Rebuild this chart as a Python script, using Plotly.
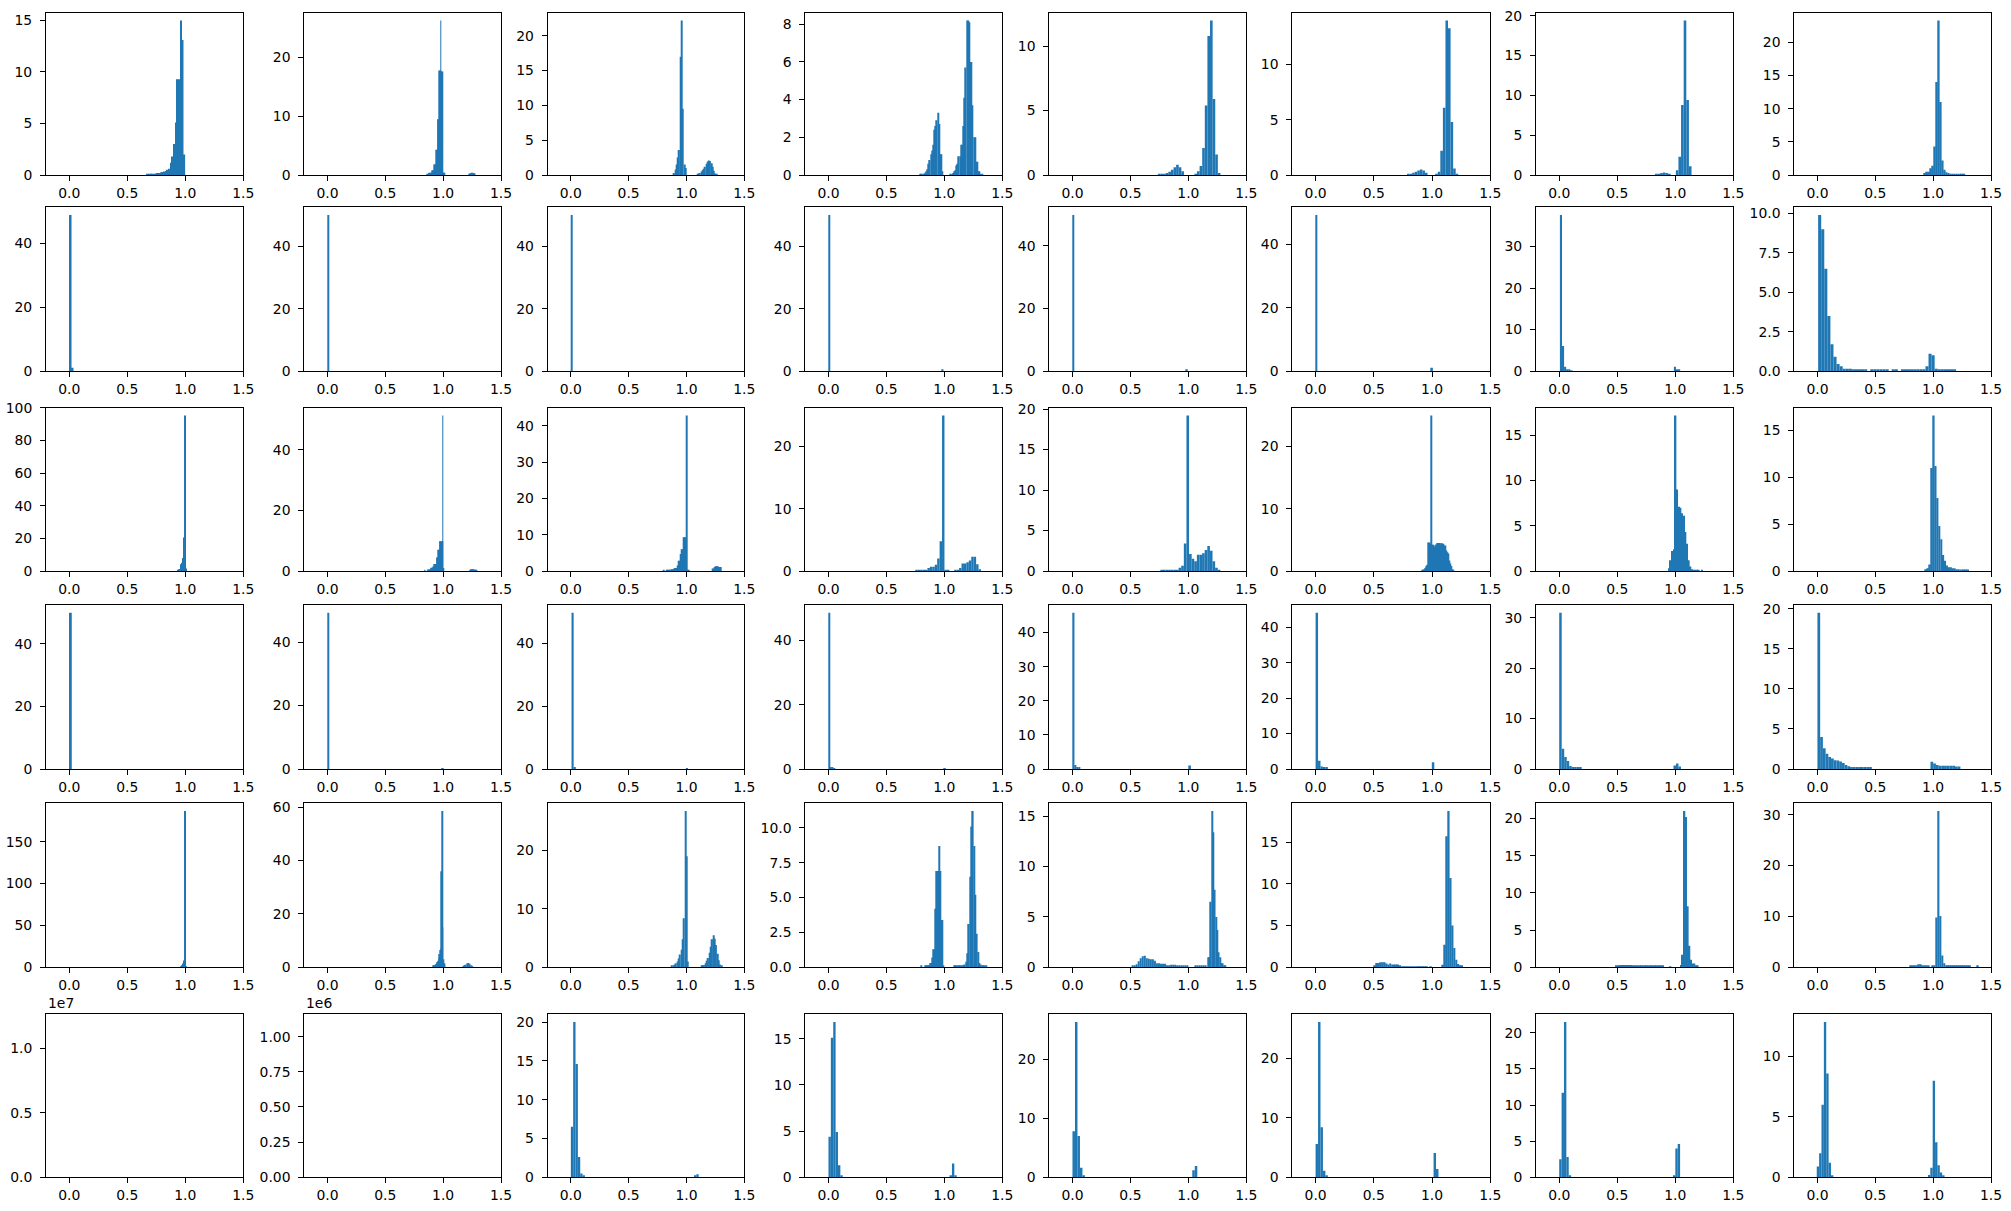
import plotly.graph_objects as go

# histogram data: each panel is a list of (left edge, bin width, densities)
p01 = [(0.67, 0.0143, [0.1, 0.1, 0.1, 0.1, 0.1, 0.15, 0.2, 0.2, 0.25, 0.3, 0.35, 0.4, 0.5, 0.6, 1.2, 1.8, 3.0, 5.1, 9.3, 9.3, 15.0, 13.1, 2.0])]
p02 = [(0.86, 0.0065, [0.2, 0.05, 0.3, 0.4, 0.4, 0.4, 0.4, 0.8, 0.8, 1.8, 1.8, 1.8, 4.3, 4.3, 9.5, 9.5, 17.8, 17.8, 26.3, 17.6, 17.6, 0.4, 0.4, 0.4]),
       (1.225, 0.0065, [0.2, 0.3, 0.3, 0.4, 0.4, 0.3, 0.3, 0.2])]
p03 = [(0.888, 0.011, [0.3, 0.8, 1.5, 2.5, 3.6, 17.0, 22.2, 9.5, 1.5, 1.0]),
       (1.09, 0.011, [0.1, 0.2, 0.3, 0.5, 0.7, 0.9, 1.2, 1.6, 1.9, 2.1, 2.0, 1.7, 1.2, 0.6, 0.2, 0.1])]
p04 = [(0.79, 0.01, [0.05, 0.05, 0.05, 0.05, 0.12, 0.2, 0.3, 0.6, 0.8, 1.1, 1.3, 1.6, 2.4, 2.6, 2.9, 3.3, 2.7, 1.1, 1.1, 0.2]),
       (1.05, 0.01, [0.05, 0.05, 0.1, 0.2, 0.25, 0.5, 0.6, 1.0, 1.0, 1.6, 1.6, 2.6, 4.1, 5.7, 8.2, 8.2, 8.1, 6.0, 6.0, 3.7, 2.0, 2.0, 0.7, 0.7, 0.2, 0.2, 0.07, 0.07])]
p05 = [(0.737, 0.0225, [0.05, 0.05, 0.1, 0.15, 0.25, 0.4, 0.6, 0.8, 0.6, 0.3, 0, 0, 0, 0, 0.05, 0.3, 0.7, 2.1, 5.4, 10.8, 12.0, 5.9, 1.6, 0.15])]
p06 = [(0.785, 0.022, [0.1, 0.1, 0.2, 0.3, 0.4, 0.5, 0.4, 0.2, 0, 0, 0, 0.1, 0.3, 2.2, 6.1, 14.0, 13.3, 4.8, 0.6, 0.1])]
p07 = [(0.825, 0.0225, [0.1, 0.1, 0.25, 0.3, 0.25, 0.15, 0, 0, 0.6, 2.3, 8.8, 19.4, 9.4, 1.1])]
p08 = [(0.92, 0.017, [0.3, 0.5, 0.5, 1.0, 1.4, 4.3, 14.0, 23.3, 11.0, 2.2, 0.8, 0.4, 0.3, 0.2, 0.2, 0.2, 0.15, 0.15, 0.15, 0.15, 0.15])]

p09 = [(0.003, 0.017, [48.8, 1.0])]
p10 = [(0.0, 0.0145, [50.0])]
p11 = [(0.0, 0.012, [50.0])]
p12 = [(0.0, 0.0125, [50.0]), (0.98, 0.0125, [0.3])]
p13 = [(0.0, 0.0145, [49.8]), (0.98, 0.0145, [0.3])]
p14 = [(0.0, 0.015, [49.3]), (0.992, 0.015, [1.0])]
p15 = [(0.006, 0.018, [37.6, 6.0, 1.0, 0.3, 0.3, 0.15]), (0.988, 0.018, [1.0, 0.3, 0.3])]
p16 = [(0.006, 0.0265, [9.9, 9.0, 6.5, 3.5, 1.7, 0.9, 0.45, 0.3, 0.15, 0.15, 0.15, 0.1, 0.1, 0.1, 0.1, 0.1, 0, 0.1, 0.1, 0.1, 0.1, 0.1, 0.1, 0,
                        0.1, 0.1, 0, 0.1, 0.1, 0.1, 0.1, 0.1, 0.1, 0.1, 0.1, 0.3, 1.1, 1.0, 0.15, 0.1, 0.1, 0.1, 0.1, 0.1, 0.1])]

p17 = [(0.936, 0.0065, [0.8, 1.0, 1.2, 3.5, 4.2, 5.0, 8.0, 11.0, 20.5, 95.4, 1.5])]
p18 = [(0.8385, 0.0065, [0.2, 0.1, 0, 0, 0.3, 0.5, 0.5, 0.5, 0.8, 1.1, 1.1, 1.5, 1.5, 2.3, 2.3, 2.3, 4.5, 4.5, 7.0, 7.0, 9.8, 9.8, 9.8, 9.8, 51.4, 1.0]),
       (1.23, 0.0065, [0.3, 0.3, 0.6, 0.6, 0.6, 0.5, 0.4, 0.4, 0.3])]
p19 = [(0.80, 0.0085, [0.1]),
       (0.8245, 0.0085, [0.3, 0.3, 0.3, 0.3, 0.3, 0.5, 0.5, 0.5, 0.8, 0.8, 0.8, 1.5, 2.8, 2.8, 4.7, 6.0, 6.0, 9.3, 9.3, 9.3, 42.9, 0.3, 0.3]),
       (1.223, 0.0085, [0.7, 0.7, 1.1, 1.3, 1.3, 1.3, 1.1, 1.1, 1.1])]
p20 = [(0.749, 0.021, [0.2, 0.2, 0.2, 0.2, 0.2, 0.5, 0.7, 0.7, 1.0, 2.0, 4.8, 25.0, 0.2, 0.2, 0, 0, 0.2, 0.2, 0.5, 1.2, 1.2, 1.4, 1.7, 2.3, 2.3, 1.1, 0.3])]
p21 = [(0.7585, 0.0225, [0.15, 0.15, 0.15, 0.15, 0.15, 0.15, 0.15, 0.4, 0.65, 3.4, 19.2, 2.1, 1.5, 1.2, 2.0, 2.0, 2.2, 2.6, 3.1, 2.5, 1.2, 0.4, 0.1])]
p22 = [(0.9141, 0.0086, [0.1, 0.2, 0.3, 0.5, 0.8, 1.0, 4.6, 4.6, 4.4, 25.0, 4.2, 4.2, 3.9, 4.1, 4.3, 4.5, 4.5, 4.5, 4.3, 4.5, 4.4, 4.4, 4.1, 4.1,
                         3.3, 3.0, 2.8, 1.7, 1.2, 0.8, 0.3, 0.15])]
p23 = [(0.938, 0.0143, [0.3, 1.2, 2.2, 2.4, 17.2, 9.0, 7.1, 7.0, 6.4, 6.1, 4.3, 3.0, 1.2, 0.5, 0.2, 0.15, 0.15, 0.15, 0.1, 0, 0.1])]
p24 = [(0.93, 0.0165, [0.2, 0.3, 0.7, 11.0, 16.6, 11.2, 7.8, 4.8, 3.4, 1.7, 1.1, 0.6, 0.4, 0.4, 0.3, 0.3, 0.2, 0.2, 0.15, 0.15, 0.15, 0.15, 0.15])]

p25 = [(0.005, 0.017, [49.9])]
p26 = [(0.0, 0.0145, [49.2]), (0.99, 0.0145, [0.3])]
p27 = [(0.006, 0.0185, [49.6, 0.4]), (0.995, 0.0185, [0.3])]
p28 = [(0.0, 0.014, [48.6, 0.4, 0.4, 0.3]), (0.998, 0.014, [0.3])]
p29 = [(0.0, 0.017, [45.8, 1.2, 0.4, 0.3]), (1.005, 0.017, [1.0])]
p30 = [(0.0, 0.021, [44.1, 2.3, 0.7, 0.4, 0.3]), (0.998, 0.021, [1.9])]
p31 = [(0.0, 0.0215, [31.0, 4.0, 2.4, 1.6, 0.6, 0.2, 0.2, 0.2, 0.2]), (0.9845, 0.0215, [0.7, 1.1, 0.5])]
p32 = [(0.0, 0.0235, [19.5, 4.0, 2.6, 1.9, 1.5, 1.3, 1.1, 1.05, 0.95, 0.75, 0.5, 0.35, 0.2, 0.15, 0.15, 0.15, 0.15, 0.15, 0.15, 0.15]),
       (0.977, 0.0235, [0.9, 0.7, 0.5, 0.4, 0.4, 0.4, 0.4, 0.4, 0.4, 0.3, 0.3])]

p33 = [(0.958, 0.0086, [1.2, 2.5, 4.5, 8.0, 186.6, 1.0])]
p34 = [(0.9135, 0.0058, [0.4, 0.5, 0.7, 1.0, 1.2, 1.5, 2.0, 2.5, 3.5, 5.0, 6.5, 7.0, 36.0, 58.5, 15.0, 3.0, 1.5, 0.5]),
       (1.167, 0.0115, [0.3, 0.6, 1.0, 1.5, 1.6, 1.3, 0.8, 0.3])]
p35 = [(0.87, 0.0115, [0.2, 0.3, 0.5, 0.7, 1.0, 1.5, 2.2, 3.0, 4.8, 8.4, 26.7, 19.0, 1.0]),
       (1.125, 0.0115, [0.2, 0.3, 0.4, 0.7, 1.1, 1.6, 2.5, 3.5, 4.8, 5.5, 4.9, 3.8, 2.3, 1.2, 0.5, 0.2])]
p36 = [(0.793, 0.0087, [0.1]),
       (0.833, 0.0087, [0.1, 0.1, 0.1, 0.1, 0.1, 0.3, 0.3, 0.7, 1.3, 1.3, 4.2, 6.9, 6.9, 6.9, 8.7, 6.9, 3.4, 3.4, 0.1]),
       (1.08, 0.0115, [0.1, 0.1, 0.1, 0.1, 0.1, 0.1, 0.1, 0.15, 0.2, 0.4, 1.0, 3.1, 6.5, 10.1, 11.2, 8.7, 5.2, 2.4, 1.1, 0.3, 0.2, 0.15, 0.1, 0.1, 0.1])]
p37 = [(0.51, 0.0175, [0.1, 0.1, 0.3, 0.6, 0.9, 1.1, 1.15, 0.9, 0.85, 0.8, 0.8, 0.65, 0.4, 0.4, 0.35, 0.35, 0.35, 0.2, 0.2, 0.25,
                       0.25, 0.25, 0.1, 0.1, 0.1, 0.1, 0.1, 0.1, 0, 0, 0, 0.1, 0.1, 0.1, 0.1, 0.1, 0.1]),
       (1.1655, 0.0115, [1.0, 1.0, 6.5, 15.5, 13.4, 7.7, 5.0, 3.7, 1.5, 1.0, 0.4, 0.4, 0.1, 0.1])]
p38 = [(0.502, 0.0165, [0.15, 0.5, 0.5, 0.6, 0.6, 0.6, 0.45, 0.35, 0.45, 0.3, 0.35, 0.35, 0.35, 0.2, 0.12, 0.12, 0.12, 0.12, 0.12, 0.12,
                        0.12, 0.12, 0.12, 0.12, 0.12, 0.12, 0.12, 0.12, 0, 0.1]),
       (1.0845, 0.0165, [0.3, 2.7, 15.7, 18.7, 10.7, 5.0, 2.3, 0.9, 0.4, 0.15, 0.15])]
p39 = [(0.488, 0.0143, [0.15, 0.15, 0.3, 0.3, 0.3, 0.3, 0.3, 0.3, 0.3, 0.3, 0.15, 0.15, 0.15, 0.15, 0.15, 0.15, 0.15, 0.15, 0.25,
                        0.15, 0.15, 0.15, 0.15, 0.15, 0.15, 0.15, 0.15, 0.15, 0.15]),
       (0.952, 0.0143, [0.1]),
       (1.0435, 0.0143, [0.3, 1.7, 21.0, 20.2, 8.2, 2.9, 1.0, 0.5, 0.5, 0.2, 0.2])]
p40 = [(0.799, 0.017, [0.2, 0.2, 0.2, 0.2, 0.6, 0.6, 0.4, 0.25, 0.25, 0.25, 0, 0.3, 0.3, 9.8, 30.7, 10.1, 2.3, 0.8,
                       0.2, 0.2, 0.2, 0.2, 0.2, 0.2, 0.2, 0.2, 0.2, 0.2, 0.2, 0.2, 0.2, 0, 0, 0, 0.2])]

# the first two panels of the last row hold no visible bars, only a huge peak density
p41 = []
p42 = []
p41_peak = 1.2034e7
p42_peak = 1.104e6
p43 = [(0.0, 0.0203, [6.5, 20.0, 14.6, 2.6, 0.5, 0.2]), (1.065, 0.0203, [0.25, 0.4])]
p44 = [(0.0, 0.0205, [4.4, 15.1, 16.8, 4.9, 1.3, 0.2]), (1.045, 0.0205, [0.2, 1.5, 0.2])]
p45 = [(0.0, 0.0215, [7.8, 26.3, 7.0, 1.6, 0.3]), (1.034, 0.0215, [1.2, 1.9])]
p46 = [(0.0, 0.021, [5.6, 26.1, 8.4, 1.1, 0.2]), (1.013, 0.021, [4.1, 1.4])]
p47 = [(0.0, 0.0205, [2.5, 11.7, 21.5, 2.8, 0.2]), (0.98, 0.0205, [0.2, 4.0, 4.6])]
p48 = [(-0.006, 0.0205, [0.9, 2.0, 6.0, 12.85, 8.6, 1.2, 0.1]), (0.955, 0.0205, [0.2, 0.8, 8.0, 2.9, 1.0, 0.4, 0.15])]

panels = [p01, p02, p03, p04, p05, p06, p07, p08,
          p09, p10, p11, p12, p13, p14, p15, p16,
          p17, p18, p19, p20, p21, p22, p23, p24,
          p25, p26, p27, p28, p29, p30, p31, p32,
          p33, p34, p35, p36, p37, p38, p39, p40,
          p41, p42, p43, p44, p45, p46, p47, p48]

# y tick step of every panel
y_steps = [5, 10, 5, 2, 5, 5, 5, 5,
           20, 20, 20, 20, 20, 20, 10, 2.5,
           20, 20, 10, 10, 5, 10, 5, 5,
           20, 20, 20, 20, 10, 10, 10, 5,
           50, 20, 10, 2.5, 5, 5, 5, 10,
           0.5e7, 0.25e6, 5, 5, 10, 10, 5, 5]

x_ticks = [0.0, 0.5, 1.0, 1.5]
x_labels = ['0.0', '0.5', '1.0', '1.5']

W, H = 2011, 1211
col_left = [46, 304.3, 547.7, 805.3, 1049.3, 1292.3, 1536, 1794.3]
col_right = [243.3, 501, 744.3, 1002.3, 1246.3, 1490.3, 1733.3, 1991]
row_top = [12.7, 207.3, 407.7, 605, 803.3, 1014.3]
row_bottom = [175, 371, 571, 769, 967.3, 1177.3]

BLUE = '#1f77b4'
FONT = dict(family='DejaVu Sans', size=13.9, color='black')

axis_style = dict(showline=True, linecolor='black', linewidth=1, mirror=True,
                  ticks='outside', ticklen=5, tickwidth=1, tickcolor='black',
                  showgrid=False, zeroline=False, tickfont=FONT, automargin=False)

fig = go.Figure()
layout = {}
annotations = []
empty_peaks = {40: p41_peak, 41: p42_peak}

for i, segs in enumerate(panels):
    r, c = divmod(i, 8)
    n = i + 1
    sfx = '' if n == 1 else str(n)

    xs, ys, ws = [], [], []
    for x0, w, heights in segs:
        for k, h in enumerate(heights):
            if h > 0:
                xs.append(x0 + (k + 0.5) * w)
                ys.append(h)
                ws.append(w)

    fig.add_trace(go.Bar(x=xs, y=ys, width=ws, xaxis='x' + sfx, yaxis='y' + sfx,
                         marker=dict(color=BLUE, line=dict(width=0)),
                         showlegend=False, hoverinfo='skip'))

    peak = max(ys) if ys else empty_peaks[i]
    ymax = peak * 1.05
    step = y_steps[i]

    xaxis = dict(axis_style, domain=[col_left[c] / W, col_right[c] / W], anchor='y' + sfx,
                 range=[-0.2, 1.5], tickmode='array', tickvals=x_ticks, ticktext=x_labels,
                 ticklabelstandoff=0)
    yaxis = dict(axis_style, domain=[1 - row_bottom[r] / H, 1 - row_top[r] / H], anchor='x' + sfx,
                 range=[0, ymax], ticklabelstandoff=5)

    if i in empty_peaks:
        # matplotlib style offset labels (1e7 / 1e6)
        expo = 7 if i == 40 else 6
        vals = []
        v = 0.0
        while v <= ymax:
            vals.append(v)
            v += step
        fmt = '{:.1f}' if i == 40 else '{:.2f}'
        yaxis.update(tickmode='array', tickvals=vals,
                     ticktext=[fmt.format(t / 10 ** expo) for t in vals])
        annotations.append(dict(text='1e%d' % expo, xref='paper', yref='paper',
                                x=col_left[c] / W, y=1 - row_top[r] / H,
                                xanchor='left', yanchor='bottom', yshift=1,
                                showarrow=False, font=FONT))
    else:
        yaxis.update(tickmode='linear', tick0=0, dtick=step,
                     tickformat='.1f' if step % 1 else 'd')

    layout['xaxis' + sfx] = xaxis
    layout['yaxis' + sfx] = yaxis

fig.update_layout(**layout)
fig.update_layout(width=W, height=H, autosize=False,
                  margin=dict(l=0, r=0, t=0, b=0),
                  paper_bgcolor='white', plot_bgcolor='white',
                  barmode='overlay', annotations=annotations,
                  font=FONT)

# drop the browser's default page margin so the figure sits at the window corner
fig.write_html("out.html", config={'displayModeBar': False},
               post_script="document.body.style.margin='0';")
